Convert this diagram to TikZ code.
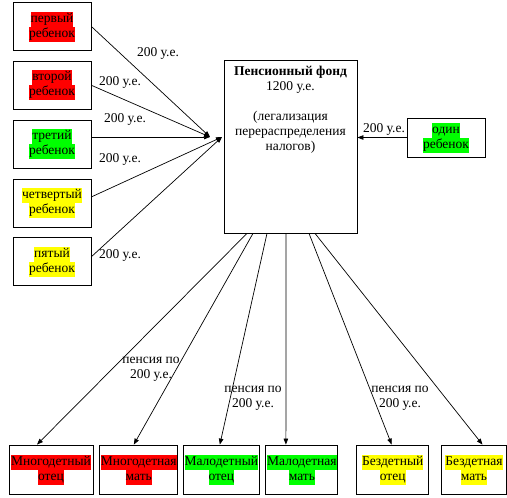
\documentclass[tikz,border=0pt]{standalone}
\usepackage{fontspec}
\setmainfont{Liberation Serif}
\usepackage{xcolor}
\usepackage{tikz}
\usetikzlibrary{arrows.meta, positioning}
\definecolor{hlred}{RGB}{255, 0, 0}
\definecolor{hlgreen}{RGB}{0, 255, 0}
\definecolor{hlyellow}{RGB}{255, 255, 0}
\newcommand{\hlt}[2]{{\setlength{\fboxsep}{0pt}\colorbox{#1}{\strut #2}}}
\newcommand{\ue}{200 у.е.}

\begin{document}
\begin{tikzpicture}[
    x=1pt, y=-1pt,
    font=\fontsize{13.5}{15}\selectfont,
    kidbox/.style={draw, line width=0.8pt, minimum width=78pt, minimum height=48pt,
                   align=center, inner sep=1pt},
    parentbox/.style={draw, line width=0.8pt, minimum height=49pt, align=center, inner sep=1pt},
    fundbox/.style={draw, line width=0.8pt, minimum width=133pt, minimum height=173pt},
    sum/.style={align=center, inner sep=0pt},
    arrow/.style={line width=0.7pt, -{Triangle[length=6pt, width=4.5pt]}}
]
    \useasboundingbox (0,0) rectangle (507,498);

    % children on the left
    \node[kidbox] (first) at (52,26.5) {\hlt{hlred}{первый}\\\hlt{hlred}{ребенок}};
    \node[kidbox, below=10pt of first] (second) {\hlt{hlred}{второй}\\\hlt{hlred}{ребенок}};
    \node[kidbox, below=10pt of second] (third) {\hlt{hlgreen}{третий}\\\hlt{hlgreen}{ребенок}};
    \node[kidbox, below=10pt of third] (fourth) {\hlt{hlyellow}{четвертый}\\\hlt{hlyellow}{ребенок}};
    \node[kidbox, below=10pt of fourth] (fifth) {\hlt{hlyellow}{пятый}\\\hlt{hlyellow}{ребенок}};

    % the fund
    \node[fundbox] (fund) at (290.5,146.5) {};
    \node[align=center, below=3pt of fund.north] (fundtext)
        {\textbf{Пенсионный фонд}\\1200 у.е.\\[15pt](легализация\\перераспределения\\налогов)};

    \node[kidbox, minimum height=39pt] (single) at (446,137.5) {\hlt{hlgreen}{один}\\\hlt{hlgreen}{ребенок}};

    % parents at the bottom
    \node[parentbox, minimum width=84pt] (mfather) at (51,469.5) {\hlt{hlred}{Многодетный}\\\hlt{hlred}{отец}};
    \node[parentbox, minimum width=78pt, right=6pt of mfather] (mmother) {\hlt{hlred}{Многодетная}\\\hlt{hlred}{мать}};
    \node[parentbox, minimum width=71pt, right=5pt of mmother] (sfather) {\hlt{hlgreen}{Малодетный}\\\hlt{hlgreen}{отец}};
    \node[parentbox, minimum width=72pt, right=6pt of sfather] (smother) {\hlt{hlgreen}{Малодетная}\\\hlt{hlgreen}{мать}};
    \node[parentbox, minimum width=72pt, right=18pt of smother] (nfather) {\hlt{hlyellow}{Бездетный}\\\hlt{hlyellow}{отец}};
    \node[parentbox, minimum width=65pt, right=12pt of nfather] (nmother) {\hlt{hlyellow}{Бездетная}\\\hlt{hlyellow}{мать}};

    \coordinate (hub) at (210,137);
    \coordinate (hubr) at (222,137);

    \draw[arrow] (first.east) -- (hub);
    \draw[arrow] (second.east) -- (hub);
    \draw[arrow] (hub -| third.east) -- (hub);
    \draw[arrow] ([yshift=6pt]fourth.east) -- (hubr);
    \draw[arrow] ([yshift=5pt]fifth.east) -- (hubr);
    \draw[arrow] (single.west) -- (single.west -| fund.east);

    \draw[arrow] ([xshift=-43.5pt]fund.south) -- ([xshift=-14pt]mfather.north);
    \draw[arrow] ([xshift=-37.5pt]fund.south) -- ([xshift=-5pt]mmother.north);
    \draw[arrow] ([xshift=-23.5pt]fund.south) -- ([xshift=-1.5pt]sfather.north);
    \draw[arrow] ([xshift=-4.5pt]fund.south) -- ([xshift=-16pt]smother.north);
    \draw[arrow] ([xshift=18.5pt]fund.south) -- ([xshift=-1pt]nfather.north);
    \draw[arrow] ([xshift=24.5pt]fund.south) -- ([xshift=8.5pt]nmother.north);

    % amounts
    \node[sum] (s1) at (158,53) {\ue};
    \node[sum] (s2) at (120,82) {\ue};
    \node[sum] (s3) at (125,119) {\ue};
    \node[sum] (s4) at (120,159) {\ue};
    \node[sum] (s5) at (120,255) {\ue};
    \node[sum] (s6) at (384,129) {\ue};
    \node[sum] (p1) at (151,369) {пенсия по\\\ue};
    \node[sum] (p2) at (253,398) {пенсия по\\\ue};
    \node[sum] (p3) at (400,398) {пенсия по\\\ue};
\end{tikzpicture}
\end{document}
